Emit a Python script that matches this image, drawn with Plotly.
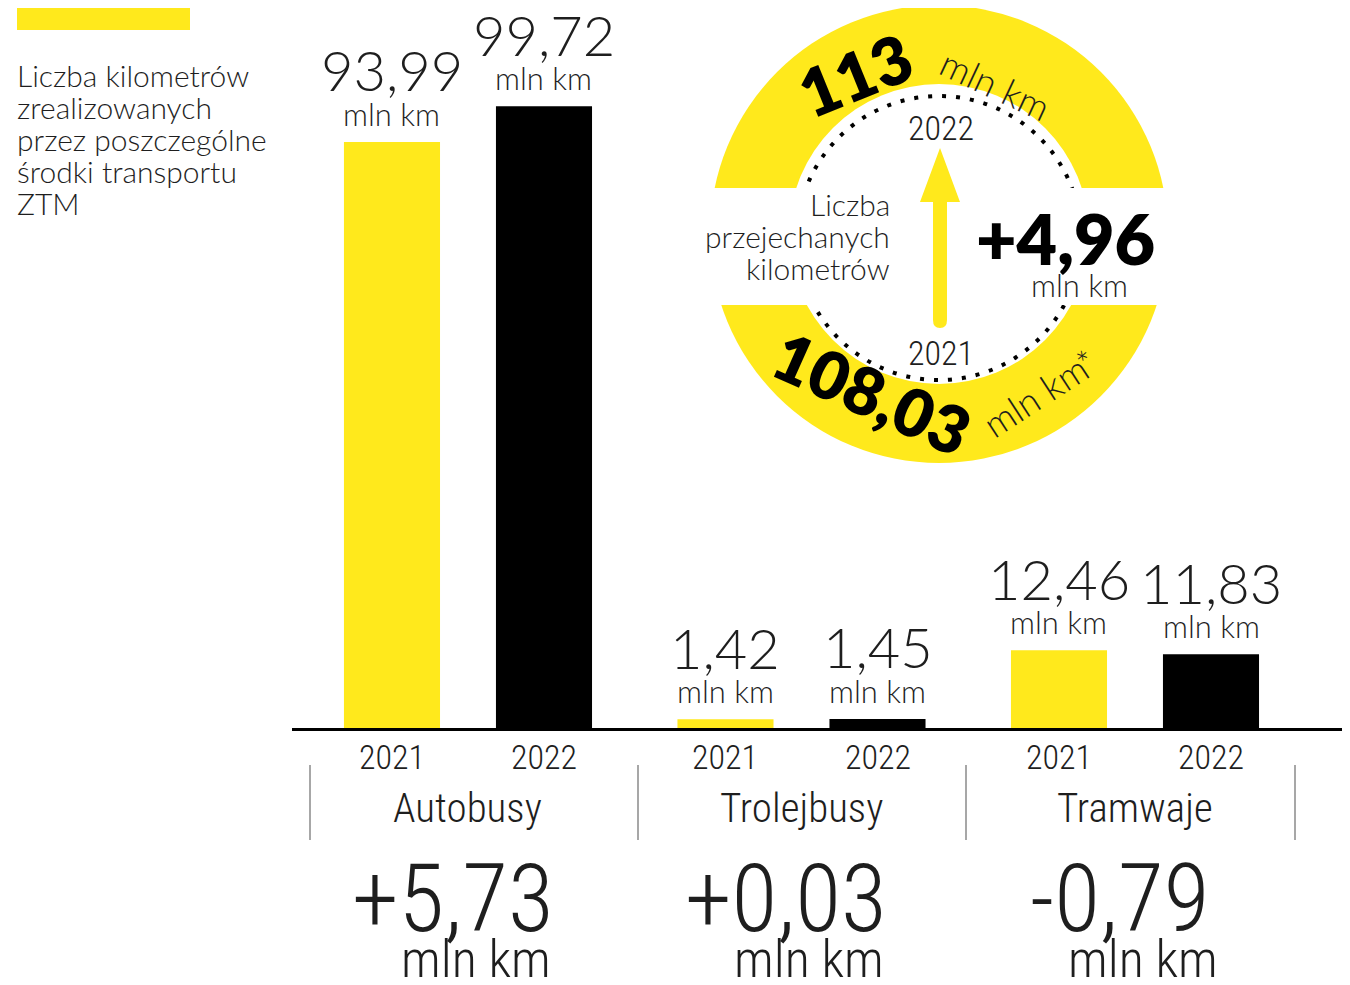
import plotly.graph_objects as go

# ---------------- data ----------------
groups = ["Autobusy", "Trolejbusy", "Tramwaje"]
years = ["2021", "2022"]
km_2021 = [93.99, 1.42, 12.46]
km_2022 = [99.72, 1.45, 11.83]
change_labels = ["+5,73", "+0,03", "-0,79"]
total_2021 = "108,03"
total_2022 = "113"
total_change = "+4,96"
legend_text = ["Liczba kilometrów", "zrealizowanych", "przez poszczególne", "środki transportu", "ZTM"]
circle_text = ["Liczba", "przejechanych", "kilometrów"]
unit = "mln km"

# ---------------- style ----------------
O = 8                          # page body margin
W, H = 1350 - O, 985 - O       # figure size
YEL = "#FFE91C"
BLK = "#000000"
TXT = "#1e1e1e"
LIGHT = "Lato"
COND = "Roboto Condensed, Liberation Sans Narrow, DejaVu Sans Condensed, sans-serif"


def px(x):
    return (x - O) / W


def py(y):
    return 1 - (y - O) / H


def fmt(v):
    return f"{v:.2f}".replace(".", ",")


fig = go.Figure()
fig.add_trace(go.Bar(x=groups, y=km_2021, name=years[0], marker_color=YEL, marker_line_width=0))
fig.add_trace(go.Bar(x=groups, y=km_2022, name=years[1], marker_color=BLK, marker_line_width=0))


def A(**kw):
    d = dict(xref="paper", yref="paper", showarrow=False, xanchor="center", yanchor="middle")
    d.update(kw)
    return d


slot = 0.4558  # width of one trace slot in category units
ann = []
for i, g in enumerate(groups):
    for j, vals in enumerate([km_2021, km_2022]):
        xo = i + (j - 0.5) * slot
        v = vals[i]
        ann.append(A(x=xo, y=v, xref="x", yref="y", text=fmt(v), yshift=72,
                     font=dict(family=LIGHT, size=56, color=TXT, weight=300)))
        ann.append(A(x=xo, y=v, xref="x", yref="y", text=unit, yshift=28,
                     font=dict(family=LIGHT, size=31, color=TXT, weight=300)))
        ann.append(A(x=xo, y=py(757), xref="x", text=years[j],
                     font=dict(family=COND, size=34, color=TXT, weight=300)))
    ann.append(A(x=i, y=py(808), xref="x", text=g,
                 font=dict(family=COND, size=41, color=TXT, weight=300)))
    ann.append(A(x=i, y=py(899), xref="x", text=change_labels[i], xshift=-15,
                 font=dict(family=COND, size=94, color=TXT, weight=300)))
    ann.append(A(x=i, y=py(959), xref="x", text=unit, xshift=8,
                 font=dict(family=COND, size=52, color=TXT, weight=300)))

# legend block
for k, line in enumerate(legend_text):
    ann.append(A(x=px(15), y=py(75 + 32 * k), text=line, xanchor="left",
                 font=dict(family=LIGHT, size=30, color=TXT, weight=300)))

# circle texts
for k, line in enumerate(circle_text):
    ann.append(A(x=px(892), y=py(204 + 32 * k), text=line, xanchor="right",
                 font=dict(family=LIGHT, size=30, color=TXT, weight=300)))
ann += [
    A(x=px(941), y=py(128), text=years[1], font=dict(family=COND, size=34, color=TXT, weight=300)),
    A(x=px(941), y=py(353), text=years[0], font=dict(family=COND, size=34, color=TXT, weight=300)),
    A(x=px(1065), y=py(238), text=total_change, font=dict(family=LIGHT, size=70, color=BLK, weight=800)),
    A(x=px(1079), y=py(285), text=unit, font=dict(family=LIGHT, size=31, color=TXT, weight=300)),
    A(x=px(855), y=py(75), text=total_2022, textangle=-22,
      font=dict(family=LIGHT, size=66, color=BLK, weight=800)),
    A(x=px(996), y=py(84), text=unit, textangle=25,
      font=dict(family=LIGHT, size=37, color=TXT, weight=300)),
    A(x=px(872), y=py(392), text=total_2021, textangle=24,
      font=dict(family=LIGHT, size=66, color=BLK, weight=800)),
    A(x=px(1035), y=py(395), text=unit, textangle=-33,
      font=dict(family=LIGHT, size=37, color=TXT, weight=300)),
    A(x=px(1083), y=py(362), text="*", textangle=-10,
      font=dict(family=LIGHT, size=34, color=TXT, weight=300)),
]

shapes = []
# legend swatch
shapes.append(dict(type="rect", xref="paper", yref="paper", x0=px(17), x1=px(190), y0=py(8), y1=py(30),
                   fillcolor=YEL, line_width=0))
# group separators
for xs in [310, 638, 966, 1295]:
    shapes.append(dict(type="line", xref="paper", yref="paper", x0=px(xs), x1=px(xs), y0=py(765), y1=py(840),
                       line=dict(color="#8a8a8a", width=1.5)))
# circle
cx, cy = 939, 234
R_out, R_in, R_dot = 229, 150, 142
shapes.append(dict(type="circle", xref="paper", yref="paper", x0=px(cx - R_out), x1=px(cx + R_out),
                   y0=py(cy - R_out), y1=py(cy + R_out), fillcolor=YEL, line_width=0))
shapes.append(dict(type="circle", xref="paper", yref="paper", x0=px(cx - R_in), x1=px(cx + R_in),
                   y0=py(cy - R_in), y1=py(cy + R_in), fillcolor="white", line_width=0))
shapes.append(dict(type="circle", xref="paper", yref="paper", x0=px(cx - R_dot), x1=px(cx + R_dot),
                   y0=py(cy + 4 - R_dot), y1=py(cy + 4 + R_dot), fillcolor="rgba(0,0,0,0)",
                   line=dict(color=BLK, width=4, dash="4px,10px")))
shapes.append(dict(type="rect", xref="paper", yref="paper", x0=px(cx - R_out - 5), x1=px(cx + R_out + 5),
                   y0=py(188), y1=py(305), fillcolor="white", line_width=0))


def P(x, y):
    return f"{px(x):.5f},{py(y):.5f}"


arrow_path = (f"M {P(933,202)} L {P(933,320)} Q {P(933,328)} {P(940,328)} Q {P(947,328)} {P(947,320)} "
              f"L {P(947,202)} L {P(960,202)} L {P(940,148)} L {P(920,202)} Z")
shapes.append(dict(type="path", xref="paper", yref="paper", path=arrow_path, fillcolor=YEL, line_width=0))

# x axis: category spacing 333.5 px, first group centre at 468 px, axis line from 292 px to right edge
fig.update_layout(
    width=W, height=H, margin=dict(l=0, r=0, t=0, b=0),
    paper_bgcolor="white", plot_bgcolor="white",
    barmode="group", bargap=0.0884, bargroupgap=0.368, showlegend=False,
    xaxis=dict(domain=[px(292), 1], range=[-0.5277, 2.6447], showticklabels=False, ticks="",
               showgrid=False, zeroline=False, showline=True, linecolor=BLK, linewidth=3),
    yaxis=dict(domain=[py(728), 1], range=[0, (728 - O) / 6.236], visible=False,
               showgrid=False, zeroline=False),
    annotations=ann, shapes=shapes,
)

fig.write_html("out.html")
